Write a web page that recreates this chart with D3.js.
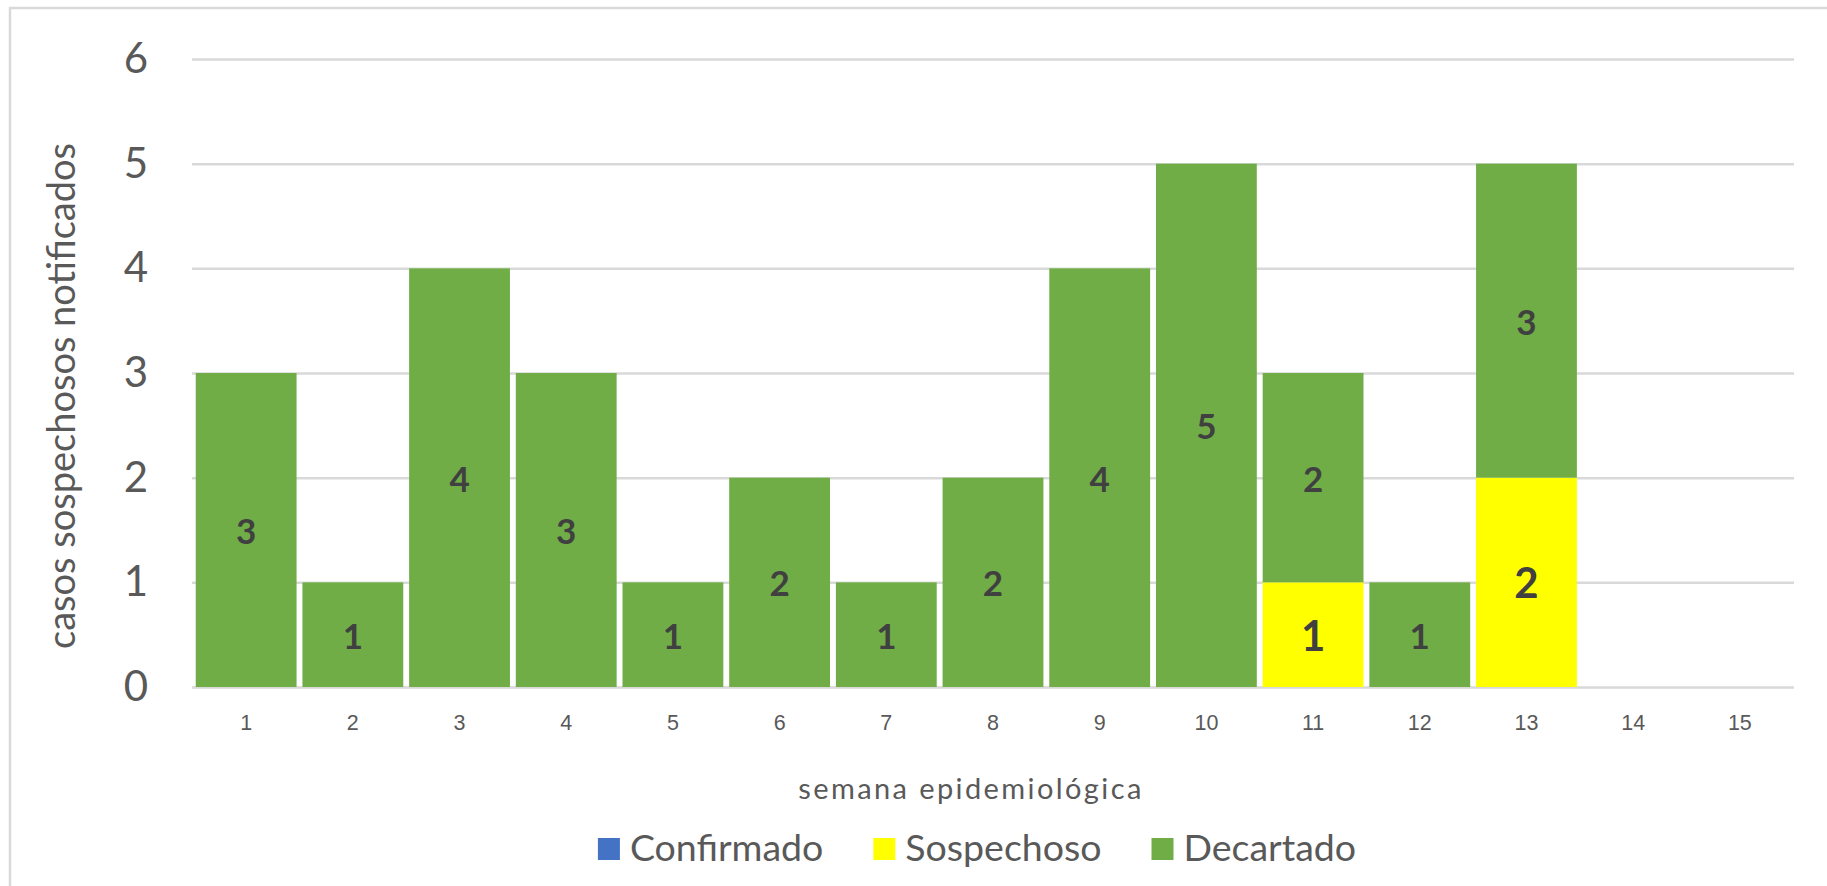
<!DOCTYPE html>
<html>
<head>
<meta charset="utf-8">
<script src="https://cdn.jsdelivr.net/npm/d3@7"></script>
<style>
  html, body { margin: 0; padding: 0; background: #fff; }
  svg { display: block; font-family: Lato, "Open Sans", sans-serif; }
</style>
</head>
<body>
<svg id="chart" width="1827" height="886"></svg>
<script>
// Weekly notified suspected cases, stacked by classification
const weeks = ["1","2","3","4","5","6","7","8","9","10","11","12","13","14","15"];
const seriesNames = ["Confirmado", "Sospechoso", "Decartado"];
const confirmado = [0,0,0,0,0,0,0,0,0,0,0,0,0,0,0];
const sospechoso = [0,0,0,0,0,0,0,0,0,0,1,0,2,0,0];
const decartado  = [3,1,4,3,1,2,1,2,4,5,2,1,3,0,0];
const yTicks = [0,1,2,3,4,5,6];
const seriesColors = ["#4472C4", "#FFFF00", "#70AD47"];
const yTitle = "casos sospechosos notificados";
const xTitle = "semana epidemiológica";

const rows = weeks.map((w, i) => ({
  week: w,
  Confirmado: confirmado[i],
  Sospechoso: sospechoso[i],
  Decartado: decartado[i]
}));

const svg = d3.select("#chart");
const plot = { left: 192, right: 1794, top: 59, bottom: 687 };

// outer chart-area frame (runs off the right and bottom edges)
svg.append("rect")
  .attr("x", 10).attr("y", 8)
  .attr("width", 1900).attr("height", 1000)
  .attr("fill", "none").attr("stroke", "#d9d9d9").attr("stroke-width", 2.5);

const x = d3.scaleBand().domain(weeks)
  .range([plot.left, plot.right])
  .paddingInner(0.055).paddingOuter(0.035);
const y = d3.scaleLinear().domain([0, 6]).range([plot.bottom, plot.top]);
const color = d3.scaleOrdinal().domain(seriesNames).range(seriesColors);

// horizontal gridlines
const yAxis = d3.axisLeft(y).tickValues(yTicks).tickSize(-(plot.right - plot.left)).tickPadding(44).tickFormat(d3.format("d"));
const gy = svg.append("g").attr("transform", `translate(${plot.left},0)`).call(yAxis);
gy.select(".domain").remove();
gy.selectAll(".tick line").attr("stroke", "#d9d9d9").attr("stroke-width", 2.5);
gy.selectAll(".tick text")
  .attr("fill", "#595959").attr("font-size", 42).attr("font-family", "Lato");

// category axis labels
const xAxis = d3.axisBottom(x).tickSize(0).tickPadding(0);
const gx = svg.append("g").attr("transform", `translate(0,${plot.bottom})`).call(xAxis);
gx.select(".domain").remove();
gx.selectAll(".tick text")
  .attr("fill", "#595959").attr("font-size", 21.5).attr("dy", null)
  .attr("y", 37).attr("dominant-baseline", "middle");

// stacked bars
const stacked = d3.stack().keys(seriesNames)(rows);
const layers = svg.append("g").selectAll("g").data(stacked).join("g")
  .attr("fill", d => color(d.key));
layers.selectAll("rect").data(d => d.filter(s => s[1] > s[0]))
  .join("rect")
  .attr("x", d => x(d.data.week))
  .attr("width", x.bandwidth())
  .attr("y", d => y(d[1]))
  .attr("height", d => y(d[0]) - y(d[1]));

// value labels centred in each segment
const labels = svg.append("g").attr("font-weight", "bold").attr("fill", "#404040")
  .attr("text-anchor", "middle");
stacked.forEach(layer => {
  labels.selectAll(null).data(layer.filter(s => s[1] > s[0])).join("text")
    .attr("x", d => x(d.data.week) + x.bandwidth() / 2)
    .attr("y", d => y((d[0] + d[1]) / 2))
    .attr("dominant-baseline", "central")
    .attr("font-size", layer.key === "Sospechoso" ? 42 : 35)
    .text(d => d[1] - d[0]);
});

// axis titles
svg.append("text")
  .attr("transform", "translate(75,396) rotate(-90)")
  .attr("text-anchor", "middle")
  .attr("fill", "#595959").attr("font-size", 38)
  .text(yTitle);

svg.append("text")
  .attr("x", 971).attr("y", 799)
  .attr("text-anchor", "middle")
  .attr("fill", "#595959").attr("font-size", 29).attr("letter-spacing", 2.4)
  .text(xTitle);

// legend
const legend = svg.append("g");
const items = legend.selectAll("g").data(seriesNames).join("g");
items.append("rect").attr("width", 22).attr("height", 22).attr("y", 838)
  .attr("fill", d => color(d));
items.append("text").attr("x", 32).attr("y", 861)
  .attr("fill", "#595959").attr("font-size", 37.5).text(d => d);
const widths = [];
items.each(function () {
  widths.push(32 + d3.select(this).select("text").node().getComputedTextLength());
});
const gap = 50;
const total = d3.sum(widths) + gap * (widths.length - 1);
let cursor = 977 - total / 2;
items.each(function (d, i) {
  d3.select(this).attr("transform", `translate(${cursor},0)`);
  cursor += widths[i] + gap;
});
</script>
</body>
</html>
